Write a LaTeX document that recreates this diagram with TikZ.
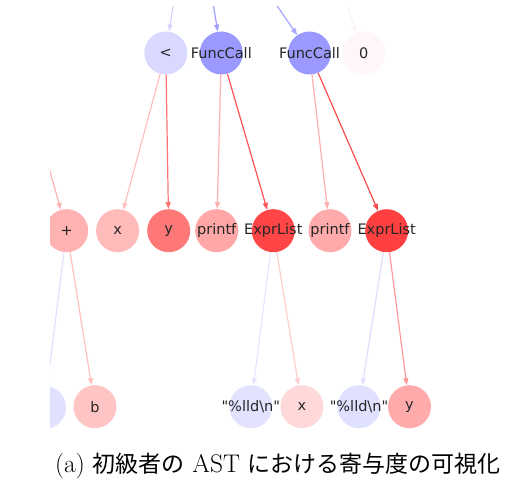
\documentclass[tikz,border=0pt]{standalone}
\usepackage{fontspec}
\newfontfamily\nodefont{DejaVu Sans}
\newfontfamily\jpfont{Noto Sans CJK JP}
\usetikzlibrary{arrows.meta}

\newcommand{\nlabel}[1]{\makebox[0pt]{#1}}

\begin{document}
\begin{tikzpicture}[x=1pt,y=-1pt]
  \tikzset{ast node/.style={circle,
      inner sep=0pt,
      minimum size=43pt,
      fill=#1,
      text=black!85,
      font=\nodefont\fontsize{14.5}{16}\selectfont},
    ast edge/.style={draw=#1, line width=1.2pt,
      -{Triangle[length=7pt,width=5pt]}}
  }
  \useasboundingbox (0,0) rectangle (528,486);
  \begin{scope}
    \clip (50,7) rectangle (528,445);
    % top row
    \node [ast node=blue!15] (lt) at (165.8,53) {\nlabel{<}};
    \node [ast node=blue!40] (call1) at (221.3,53) {\nlabel{FuncCall}};
    \node [ast node=blue!40] (call2) at (309.5,53) {\nlabel{FuncCall}};
    \node [ast node=red!3] (zero) at (363.8,53) {\nlabel{0}};
    % middle row
    \node [ast node=red!30] (plus) at (66.7,230.7) {\nlabel{+}};
    \node [ast node=red!27] (xa) at (117.6,230.7) {\nlabel{x}};
    \node [ast node=red!53] (ya) at (168.7,230.7) {\nlabel{y}};
    \node [ast node=red!35] (pf1) at (216.7,230.7) {\nlabel{printf}};
    \node [ast node=red!73] (el1) at (273.3,230.7) {\nlabel{ExprList}};
    \node [ast node=red!33] (pf2) at (330,230.7) {\nlabel{printf}};
    \node [ast node=red!75] (el2) at (386.7,230.7) {\nlabel{ExprList}};
    % bottom row
    \node [ast node=blue!12] (leaf) at (44.5,407.5) {};
    \node [ast node=red!23] (b) at (95,406.7) {\nlabel{b}};
    \node [ast node=blue!11] (fmt1) at (250.8,406.7) {\nlabel{"\%lld\textbackslash n"}};
    \node [ast node=red!15] (xb) at (302,406.7) {\nlabel{x}};
    \node [ast node=blue!12] (fmt2) at (359,406.7) {\nlabel{"\%lld\textbackslash n"}};
    \node [ast node=red!33] (yb) at (409.5,406.7) {\nlabel{y}};
    % parents outside the crop
    \coordinate (up1) at (174.5,-3);
    \coordinate (up2) at (212,-3);
    \coordinate (up3) at (271,-3);
    \coordinate (up4) at (344,-3);
    \coordinate (upplus) at (44,150);

    \draw [ast edge=blue!17] (up1) -- (lt);
    \draw [ast edge=blue!38] (up2) -- (call1);
    \draw [ast edge=blue!35] (up3) -- (call2);
    \draw [ast edge=red!5] (up4) -- (zero);
    \draw [ast edge=red!30] (upplus) -- (plus);
    \draw [ast edge=red!25] (lt) -- (xa);
    \draw [ast edge=red!55] (lt) -- (ya);
    \draw [ast edge=red!30] (call1) -- (pf1);
    \draw [ast edge=red!68] (call1) -- (el1);
    \draw [ast edge=red!32] (call2) -- (pf2);
    \draw [ast edge=red!70] (call2) -- (el2);
    \draw [ast edge=blue!12] (plus) -- (leaf);
    \draw [ast edge=red!25] (plus) -- (b);
    \draw [ast edge=blue!10] (el1) -- (fmt1);
    \draw [ast edge=red!20] (el1) -- (xb);
    \draw [ast edge=blue!13] (el2) -- (fmt2);
    \draw [ast edge=red!40] (el2) -- (yb);
  \end{scope}
  \node [font=\fontsize{25.5}{28}\selectfont] (caption) at (278,466)
    {(a) {\jpfont\fontsize{23}{26}\selectfont 初級者の} AST {\jpfont\fontsize{23}{26}\selectfont における寄与度の可視化}};
\end{tikzpicture}
\end{document}
